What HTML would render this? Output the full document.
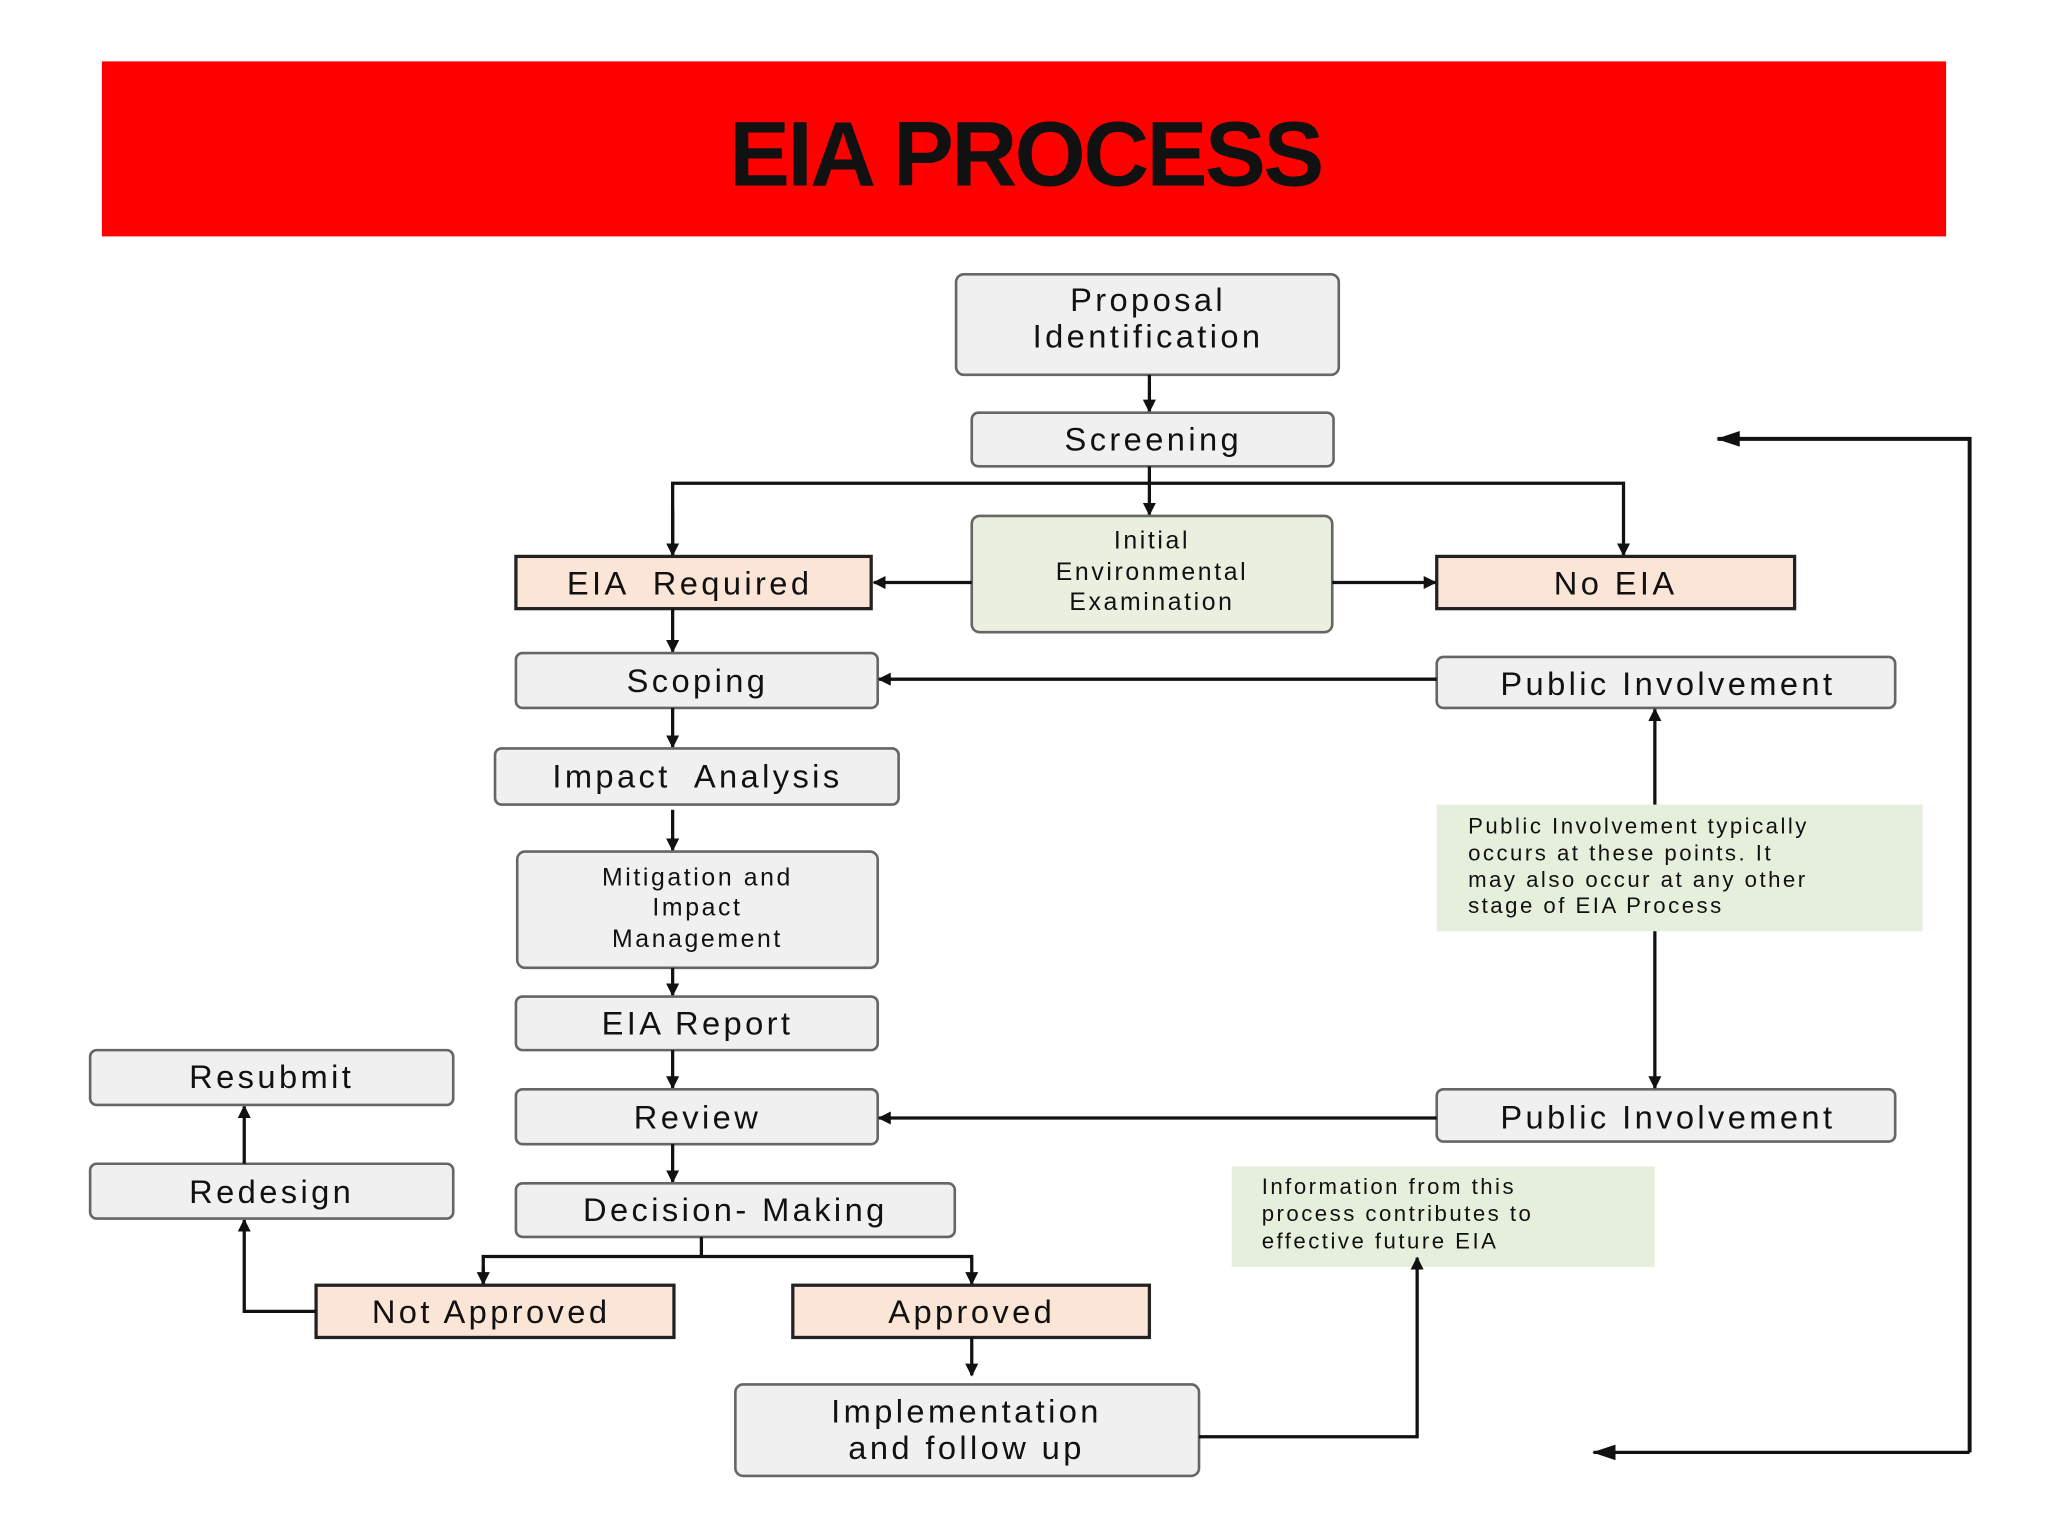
<!DOCTYPE html>
<html><head><meta charset="utf-8"><style>
html,body{margin:0;padding:0;background:#fff;}
svg{display:block;}
text{font-family:"Liberation Sans",Arial,sans-serif;fill:#111;}
.b{fill:#f0f0f0;stroke:#666;stroke-width:2;}
.o{fill:#fbe5d6;stroke:#222;stroke-width:2.5;}
.g{fill:#e9f0df;stroke:#666;stroke-width:2;}
.n{fill:#e6efdc;stroke:none;}
.l{stroke:#111;stroke-width:2.5;fill:none;}
.t{font-size:25px;letter-spacing:2.6px;text-anchor:middle;}
.s{font-size:19px;letter-spacing:2px;text-anchor:middle;}
.m{font-size:17px;letter-spacing:1.9px;}
</style></head><body>
<svg width="2048" height="1536" viewBox="0 0 1568 1176" preserveAspectRatio="none" xmlns="http://www.w3.org/2000/svg">
<defs><marker id="a" markerWidth="10" markerHeight="10" refX="9" refY="5" orient="auto" markerUnits="userSpaceOnUse"><path d="M0,0 L10,5 L0,10 z" fill="#111"/></marker>
<marker id="A" markerWidth="18" markerHeight="12" refX="17" refY="6" orient="auto" markerUnits="userSpaceOnUse"><path d="M0,0 L18,6 L0,12 z" fill="#111"/></marker></defs>
<rect x="78" y="47" width="1412" height="134" fill="#ff0000"/>
<text x="785" y="142" text-anchor="middle" style="font-size:70px;font-weight:bold;letter-spacing:-2px">EIA PROCESS</text>

<rect class="b" x="732" y="210" width="293" height="77" rx="6"/>
<text class="t" x="879" y="238">Proposal</text><text class="t" x="879" y="266">Identification</text>
<line class="l" x1="880" y1="287" x2="880" y2="315" marker-end="url(#a)"/>
<rect class="b" x="744" y="316" width="277" height="41" rx="5"/>
<text class="t" x="883" y="345">Screening</text>
<line class="l" x1="880" y1="357" x2="880" y2="394" marker-end="url(#a)"/>
<polyline class="l" points="515,425 515,370 1243,370 1243,425" marker-end="url(#a)"/>
<line class="l" x1="515" y1="390" x2="515" y2="425" marker-end="url(#a)"/>

<rect class="g" x="744" y="395" width="276" height="89" rx="6"/>
<text class="s" x="882" y="420">Initial</text><text class="s" x="882" y="444">Environmental</text><text class="s" x="882" y="467">Examination</text>
<rect class="o" x="395" y="426" width="272" height="40"/>
<text class="t" x="528" y="455" xml:space="preserve">EIA  Required</text>
<rect class="o" x="1100" y="426" width="274" height="40"/>
<text class="t" x="1237" y="455">No EIA</text>
<line class="l" x1="744" y1="446" x2="669" y2="446" marker-end="url(#a)"/>
<line class="l" x1="1020" y1="446" x2="1099" y2="446" marker-end="url(#a)"/>
<line class="l" x1="515" y1="466" x2="515" y2="499" marker-end="url(#a)"/>

<rect class="b" x="395" y="500" width="277" height="42" rx="5"/>
<text class="t" x="534" y="530">Scoping</text>
<rect class="b" x="1100" y="503" width="351" height="39" rx="5"/>
<text class="t" x="1277" y="532">Public Involvement</text>
<line class="l" x1="1100" y1="520" x2="673" y2="520" marker-end="url(#a)"/>
<line class="l" x1="515" y1="542" x2="515" y2="572" marker-end="url(#a)"/>
<rect class="b" x="379" y="573" width="309" height="43" rx="5"/>
<text class="t" x="534" y="603" xml:space="preserve">Impact  Analysis</text>
<line class="l" x1="515" y1="620" x2="515" y2="651" marker-end="url(#a)"/>
<rect class="b" x="396" y="652" width="276" height="89" rx="6"/>
<text class="s" x="534" y="678">Mitigation and</text><text class="s" x="534" y="701">Impact</text><text class="s" x="534" y="725">Management</text>
<line class="l" x1="515" y1="741" x2="515" y2="762" marker-end="url(#a)"/>
<rect class="b" x="395" y="763" width="277" height="41" rx="5"/>
<text class="t" x="534" y="792">EIA Report</text>
<line class="l" x1="515" y1="804" x2="515" y2="833" marker-end="url(#a)"/>
<rect class="b" x="395" y="834" width="277" height="42" rx="5"/>
<text class="t" x="534" y="864">Review</text>
<rect class="b" x="1100" y="834" width="351" height="40" rx="5"/>
<text class="t" x="1277" y="864">Public Involvement</text>
<line class="l" x1="1100" y1="856" x2="673" y2="856" marker-end="url(#a)"/>
<line class="l" x1="515" y1="876" x2="515" y2="905" marker-end="url(#a)"/>
<rect class="b" x="395" y="906" width="336" height="41" rx="5"/>
<text class="t" x="563" y="935">Decision- Making</text>
<line class="l" x1="537" y1="947" x2="537" y2="962"/>
<polyline class="l" points="370,983 370,962 744,962 744,983" marker-end="url(#a)"/>
<line class="l" x1="370" y1="970" x2="370" y2="983" marker-end="url(#a)"/>
<rect class="o" x="242" y="984" width="274" height="40"/>
<text class="t" x="376" y="1013">Not Approved</text>
<rect class="o" x="607" y="984" width="273" height="40"/>
<text class="t" x="744" y="1013">Approved</text>
<polyline class="l" points="242,1004 187,1004 187,934" marker-end="url(#a)"/>
<rect class="b" x="69" y="891" width="278" height="42" rx="5"/>
<text class="t" x="208" y="921">Redesign</text>
<line class="l" x1="187" y1="891" x2="187" y2="847" marker-end="url(#a)"/>
<rect class="b" x="69" y="804" width="278" height="42" rx="5"/>
<text class="t" x="208" y="833">Resubmit</text>
<line class="l" x1="744" y1="1024" x2="744" y2="1053" marker-end="url(#a)"/>
<rect class="b" x="563" y="1060" width="355" height="70" rx="6"/>
<text class="t" x="740" y="1089">Implementation</text><text class="t" x="740" y="1117">and follow up</text>
<rect class="n" x="943" y="893" width="324" height="77"/>
<text class="m" x="966" y="914">Information from this</text><text class="m" x="966" y="935">process contributes to</text><text class="m" x="966" y="956">effective future EIA</text>
<polyline class="l" points="918,1100 1085,1100 1085,963" marker-end="url(#a)"/>
<rect class="n" x="1100" y="616" width="372" height="97"/>
<text class="m" x="1124" y="638">Public Involvement typically</text><text class="m" x="1124" y="659">occurs at these points. It</text><text class="m" x="1124" y="679">may also occur at any other</text><text class="m" x="1124" y="699">stage of EIA Process</text>
<line class="l" x1="1267" y1="616" x2="1267" y2="543" marker-end="url(#a)"/>
<line class="l" x1="1267" y1="713" x2="1267" y2="833" marker-end="url(#a)"/>
<line class="l" x1="1508" y1="1112" x2="1220" y2="1112" marker-end="url(#A)"/>
<polyline class="l" style="stroke-width:3" points="1508,1112 1508,336 1315,336" marker-end="url(#A)"/>
</svg>
</body></html>
